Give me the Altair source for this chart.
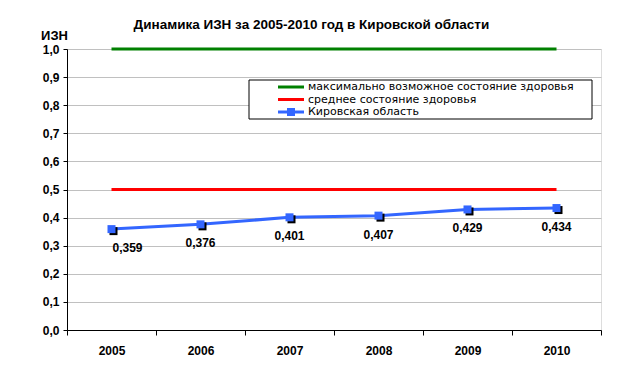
import altair as alt
import pandas as pd

years = ["2005", "2006", "2007", "2008", "2009", "2010"]
kirov = [0.359, 0.376, 0.401, 0.407, 0.429, 0.434]
max_health = [1.0, 1.0, 1.0, 1.0, 1.0, 1.0]
mean_health = [0.5, 0.5, 0.5, 0.5, 0.5, 0.5]
series_names = ["максимально возможное состояние здоровья",
                "среднее состояние здоровья",
                "Кировская область"]
series_colors = ["#008000", "#FF0000", "#3366FF"]
label_texts = ["0,359", "0,376", "0,401", "0,407", "0,429", "0,434"]
y_ticks = [0.0, 0.1, 0.2, 0.3, 0.4, 0.5, 0.6, 0.7, 0.8, 0.9, 1.0]
title_text = "Динамика ИЗН  за 2005-2010 год в Кировской области"
y_title = "ИЗН"

FONT = "Liberation Sans"

df = pd.DataFrame({"year": years, "kirov": kirov, "maxv": max_health,
                   "meanv": mean_health, "label": label_texts,
                   "first": [True] + [False] * 5})

xenc = alt.X("year:O", title=None,
             scale=alt.Scale(paddingInner=0, paddingOuter=0),
             axis=alt.Axis(tickBand="extent", labelAngle=0, labelFont=FONT,
                           labelFontSize=12, labelFontWeight="bold",
                           labelColor="black", domainColor="black",
                           tickColor="black", tickSize=5, labelPadding=10,
                           grid=False))
yscale = alt.Scale(domain=[0, 1])
yaxis = alt.Axis(values=y_ticks, labelOverlap=False,
                 labelExpr="replace(format(datum.value, '.1f'), '.', ',')",
                 labelFont=FONT, labelFontSize=12, labelFontWeight="bold",
                 labelColor="black", domainColor="black", tickColor="black",
                 tickSize=4, labelPadding=4, gridColor="#C0C0C0",
                 title=y_title, titleAngle=0, titleFont=FONT, titleFontSize=13,
                 titleFontWeight="bold", titleColor="black", titleX=-13,
                 titleY=-14, titleAlign="center", titleBaseline="middle")


def yenc(field):
    return alt.Y(field + ":Q", scale=yscale, axis=yaxis, title=y_title)


base = alt.Chart(df)

max_line = base.mark_line(color=series_colors[0], strokeWidth=3).encode(
    x=xenc, y=yenc("maxv"))
mean_line = base.mark_line(color=series_colors[1], strokeWidth=3).encode(
    x=xenc, y=yenc("meanv"))
kirov_line = base.mark_line(color=series_colors[2], strokeWidth=3).encode(
    x=xenc, y=yenc("kirov"))
shadow = base.mark_square(color="black", size=64, opacity=1, xOffset=2,
                          yOffset=2).encode(x=xenc, y=yenc("kirov"))
squares = base.mark_square(color=series_colors[2], size=64, opacity=1).encode(
    x=xenc, y=yenc("kirov"))
labels_rest = base.transform_filter("!datum.first").mark_text(
    font=FONT, fontSize=12, fontWeight="bold", color="black", dy=19,
    baseline="middle").encode(x=xenc, y=yenc("kirov"), text="label:N")
labels_first = base.transform_filter("datum.first").mark_text(
    font=FONT, fontSize=12, fontWeight="bold", color="black", dy=19, dx=16,
    baseline="middle").encode(x=xenc, y=yenc("kirov"), text="label:N")

# legend (drawn manually to match the boxed Excel-style legend)
box = alt.Chart(pd.DataFrame({"a": [0]})).mark_rect(
    fill="white", stroke="black", strokeWidth=1).encode(
    x=alt.value(182), x2=alt.value(525), y=alt.value(31), y2=alt.value(70))
legend_layers = [box]
for i, (name, col) in enumerate(zip(series_names, series_colors)):
    ly = 38 + 12.5 * i
    ldf = pd.DataFrame({"name": [name]})
    legend_layers.append(alt.Chart(ldf).mark_rule(
        color=col, strokeWidth=3).encode(
        x=alt.value(211), x2=alt.value(237), y=alt.value(ly)))
    if i == 2:
        legend_layers.append(alt.Chart(ldf).mark_square(
            color=col, size=64, opacity=1).encode(
            x=alt.value(224), y=alt.value(ly)))
    legend_layers.append(alt.Chart(ldf).mark_text(
        font="DejaVu Sans", fontSize=11, color="black", align="left",
        baseline="middle").encode(
        x=alt.value(241), y=alt.value(ly), text="name:N"))

chart = alt.layer(max_line, mean_line, kirov_line, shadow,
                  squares, labels_rest, labels_first, *legend_layers).properties(
    width=534, height=281,
    padding={"left": 59, "top": 41, "right": 15, "bottom": 39},
    autosize=alt.AutoSizeParams(type="none"),
    title=alt.TitleParams(title_text, anchor="start", dx=93, offset=-2,
                          font=FONT, fontSize=13.5, fontWeight="bold",
                          color="black"),
).configure_view(stroke=None).configure(background="white")

chart.save("out.html", embed_options={"renderer": "svg", "actions": False})
